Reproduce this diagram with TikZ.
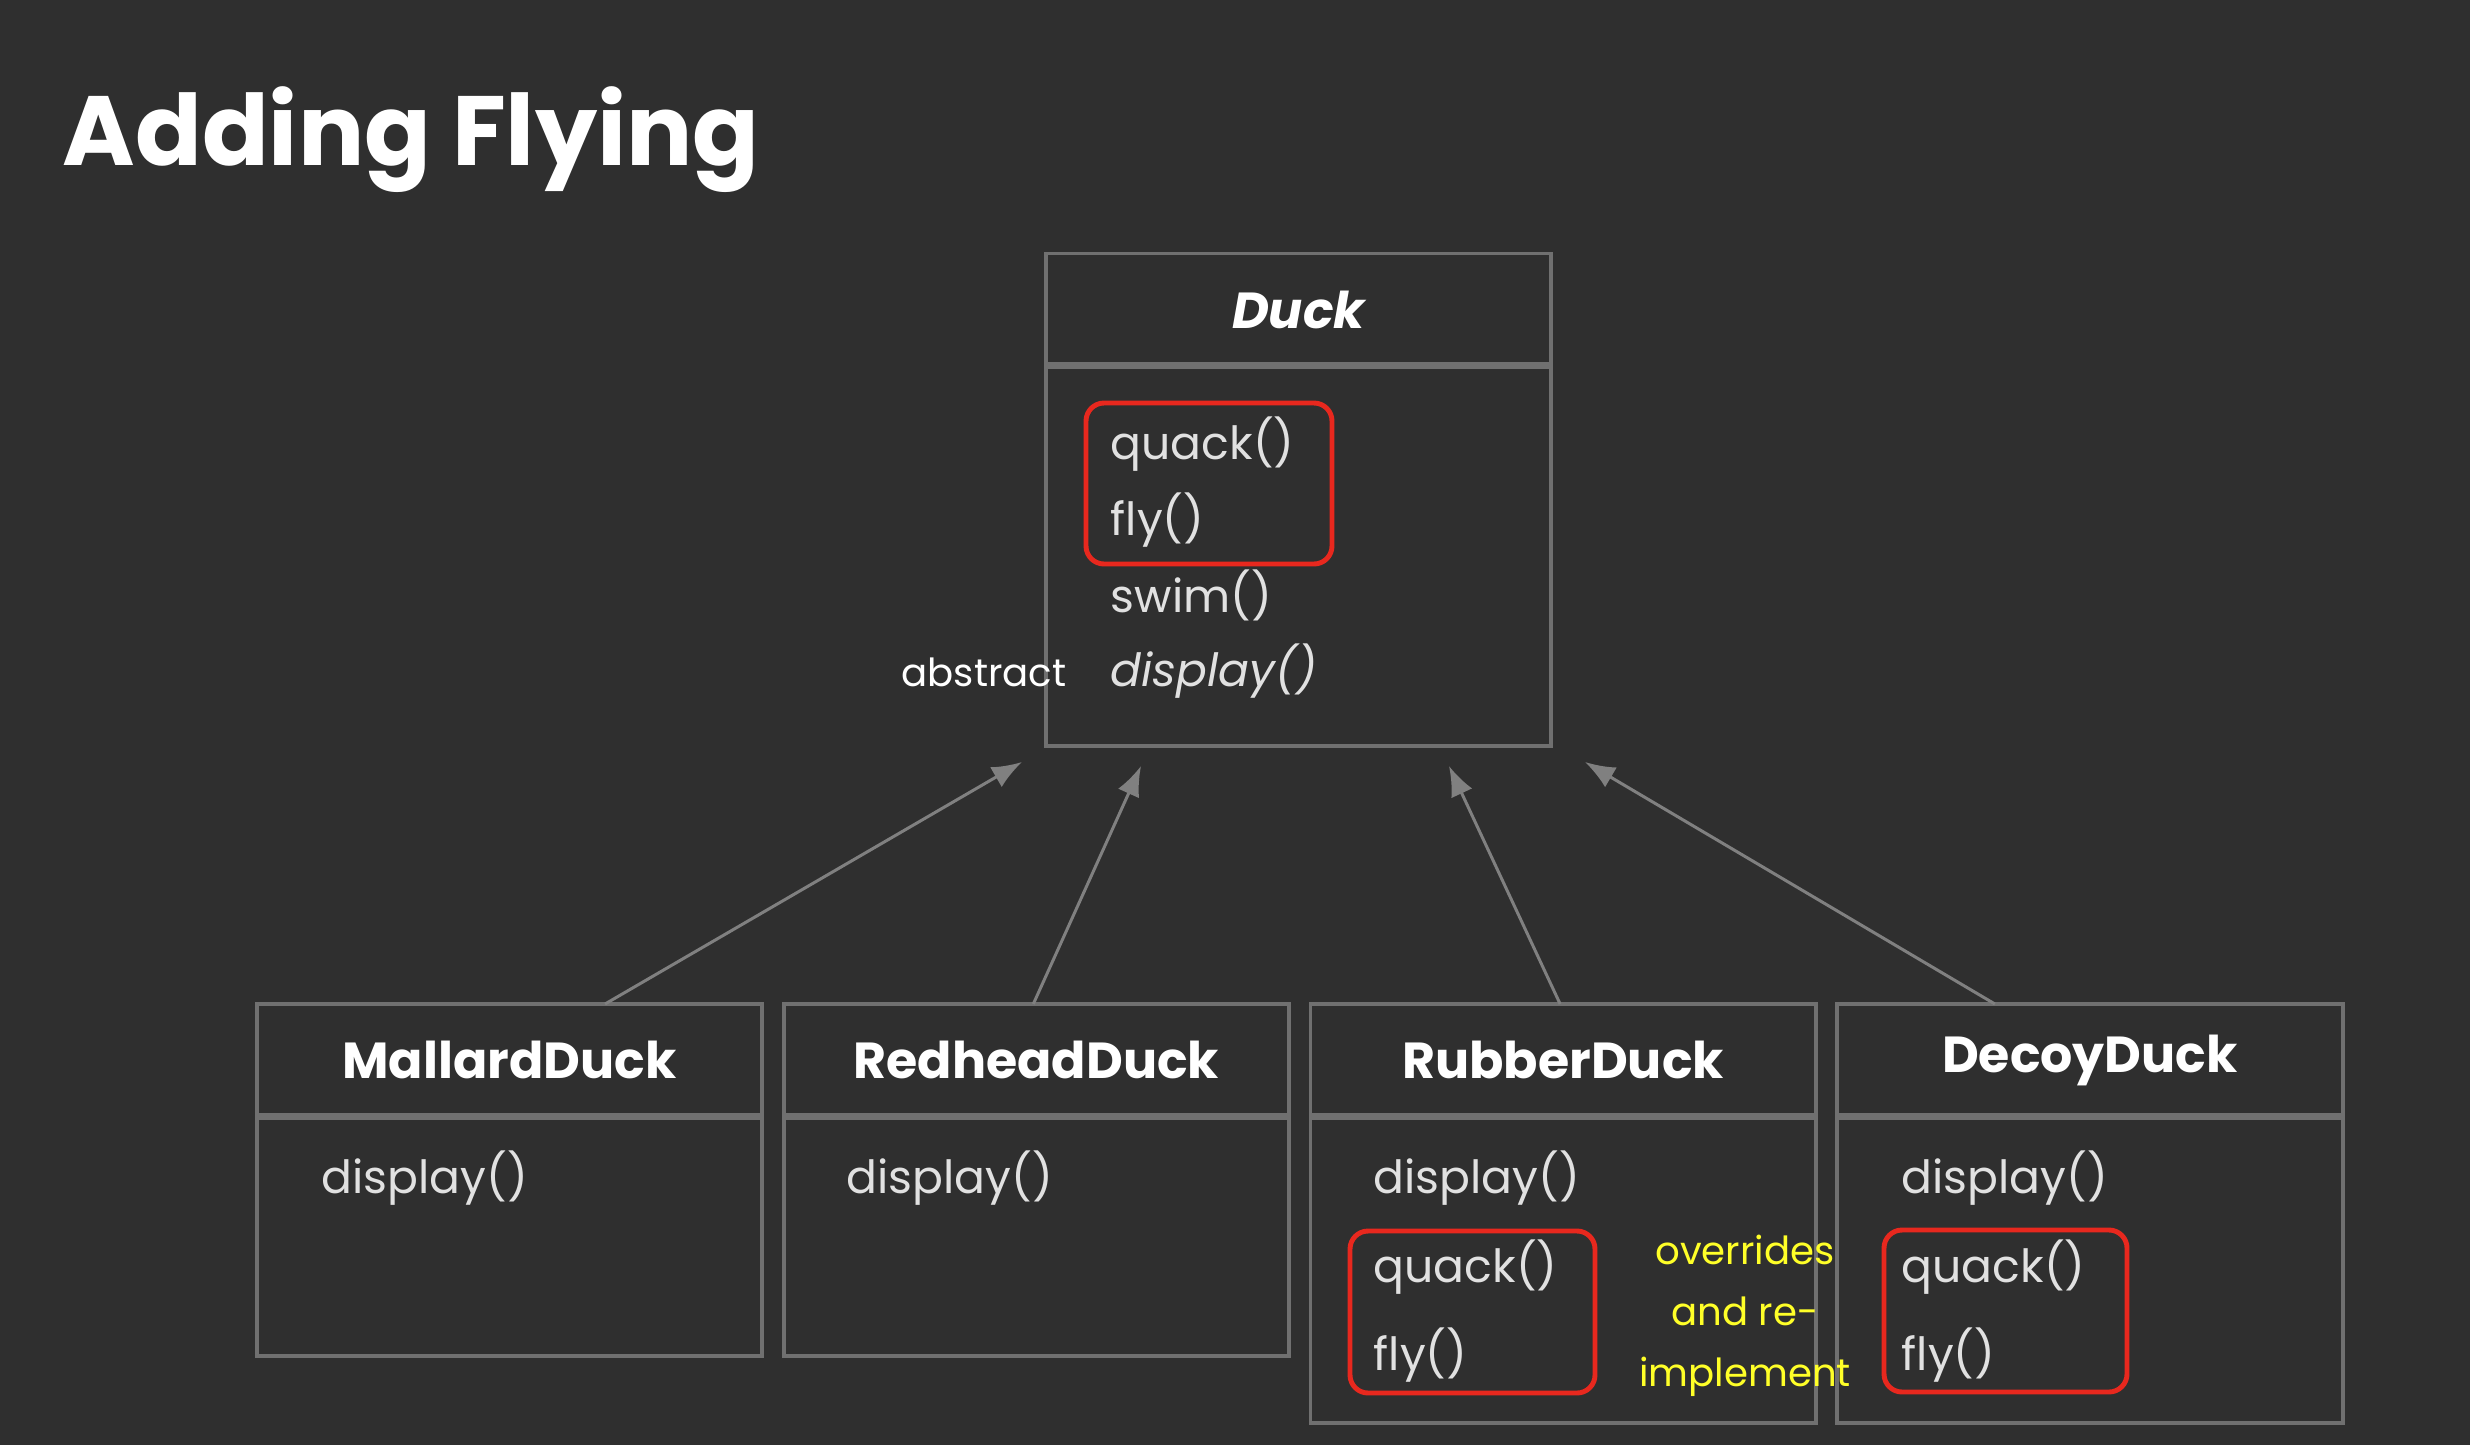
\documentclass[tikz,border=0pt]{standalone}
\usepackage{fontspec}
\setmainfont{Poppins}
\usetikzlibrary{positioning,arrows.meta}
\definecolor{bg}{RGB}{47,47,47}
\definecolor{edge}{RGB}{112,112,112}
\definecolor{arr}{RGB}{128,128,128}
\definecolor{txt}{RGB}{225,225,225}
\definecolor{hlred}{RGB}{232,40,30}
\definecolor{note}{RGB}{255,255,40}
\tikzset{
  head/.style={draw=edge, line width=1.1pt, minimum width=5.05cm, minimum height=1.12cm,
    inner sep=0pt, outer sep=0pt, text=white, font=\bfseries\fontsize{14.4}{17}\selectfont},
  body/.style={draw=edge, line width=1.1pt, minimum width=5.05cm, inner sep=0pt, outer sep=0pt},
  sep/.style={draw=edge, line width=2pt},
  meth/.style={anchor=base west, inner sep=0pt, text=txt, font=\fontsize{13}{15}\selectfont},
  hl/.style={draw=hlred, line width=1.4pt, rounded corners=0.18cm},
  inh/.style={draw=arr, line width=0.85pt, -{Latex[length=0.3cm,width=0.23cm]}},
}
\begin{document}
\begin{tikzpicture}[x=0.01cm, y=-0.01cm, node distance=0.215cm]
\fill[bg] (0,0) rectangle (2470,1445);
\node[anchor=base west, inner sep=0pt, text=white, font=\bfseries\fontsize{28}{31}\selectfont] (title) at (62,165) {Adding Flying};
% base class
\node[head] (duck) at (1298.5,309.5) {\itshape Duck};
\node[body, minimum height=3.8cm, below=0pt of duck] (duckbody) {};
\draw[sep] (duck.south west) -- (duck.south east);
\node[meth] (dquack) at (1110,459) {quack()};
\node[meth] (dfly) at (1110,535) {fly()};
\node[meth] (dswim) at (1110,612) {swim()};
\node[meth] (ddisp) at (1110,686) {\itshape display()};
\node[meth, anchor=base east, text=white, font=\fontsize{11}{14}\selectfont] (abs) at (1067,686) {abstract};
\draw[hl] (1086,403) rectangle (1332,564);
% subclasses
\node[head] (mallard) at (509.5,1060) {MallardDuck};
\node[head, right=of mallard] (redhead) {RedheadDuck};
\node[head, right=of redhead] (rubber) {RubberDuck};
\node[head, right=of rubber] (decoy) {DecoyDuck};
\node[body, minimum height=2.4cm, below=0pt of mallard] (mallardbody) {};
\node[body, minimum height=2.4cm, below=0pt of redhead] (redheadbody) {};
\node[body, minimum height=3.07cm, below=0pt of rubber] (rubberbody) {};
\node[body, minimum height=3.07cm, below=0pt of decoy] (decoybody) {};
\foreach \c in {mallard,redhead,rubber,decoy}
  \draw[sep] (\c.south west) -- (\c.south east);
\node[meth] (mdisp) at (321,1193) {display()};
\node[meth] (rdisp) at (846,1193) {display()};
\node[meth] (udisp) at (1373,1193) {display()};
\node[meth] (uquack) at (1373,1282) {quack()};
\node[meth] (ufly) at (1373,1370) {fly()};
\node[meth] (cdisp) at (1901,1193) {display()};
\node[meth] (cquack) at (1901,1282) {quack()};
\node[meth] (cfly) at (1901,1370) {fly()};
\draw[hl] (1350,1231) rectangle (1595,1393);
\draw[hl] (1884,1230) rectangle (2127,1392);
\node[align=center, inner sep=0pt, text=note, font=\fontsize{11}{17.4}\selectfont] (ovr) at (1745,1316) {overrides\\and re-\\implement};
% inheritance
\coordinate (t1) at (1022,762);
\coordinate (t2) at (1141,766);
\coordinate (t3) at (1449,766);
\coordinate (t4) at (1585,762);
\draw[inh] ([xshift=0.955cm]mallard.north) -- (t1);
\draw[inh] ([xshift=-0.03cm]redhead.north) -- (t2);
\draw[inh] ([xshift=-0.03cm]rubber.north) -- (t3);
\draw[inh] ([xshift=-0.95cm]decoy.north) -- (t4);
\end{tikzpicture}
\end{document}
